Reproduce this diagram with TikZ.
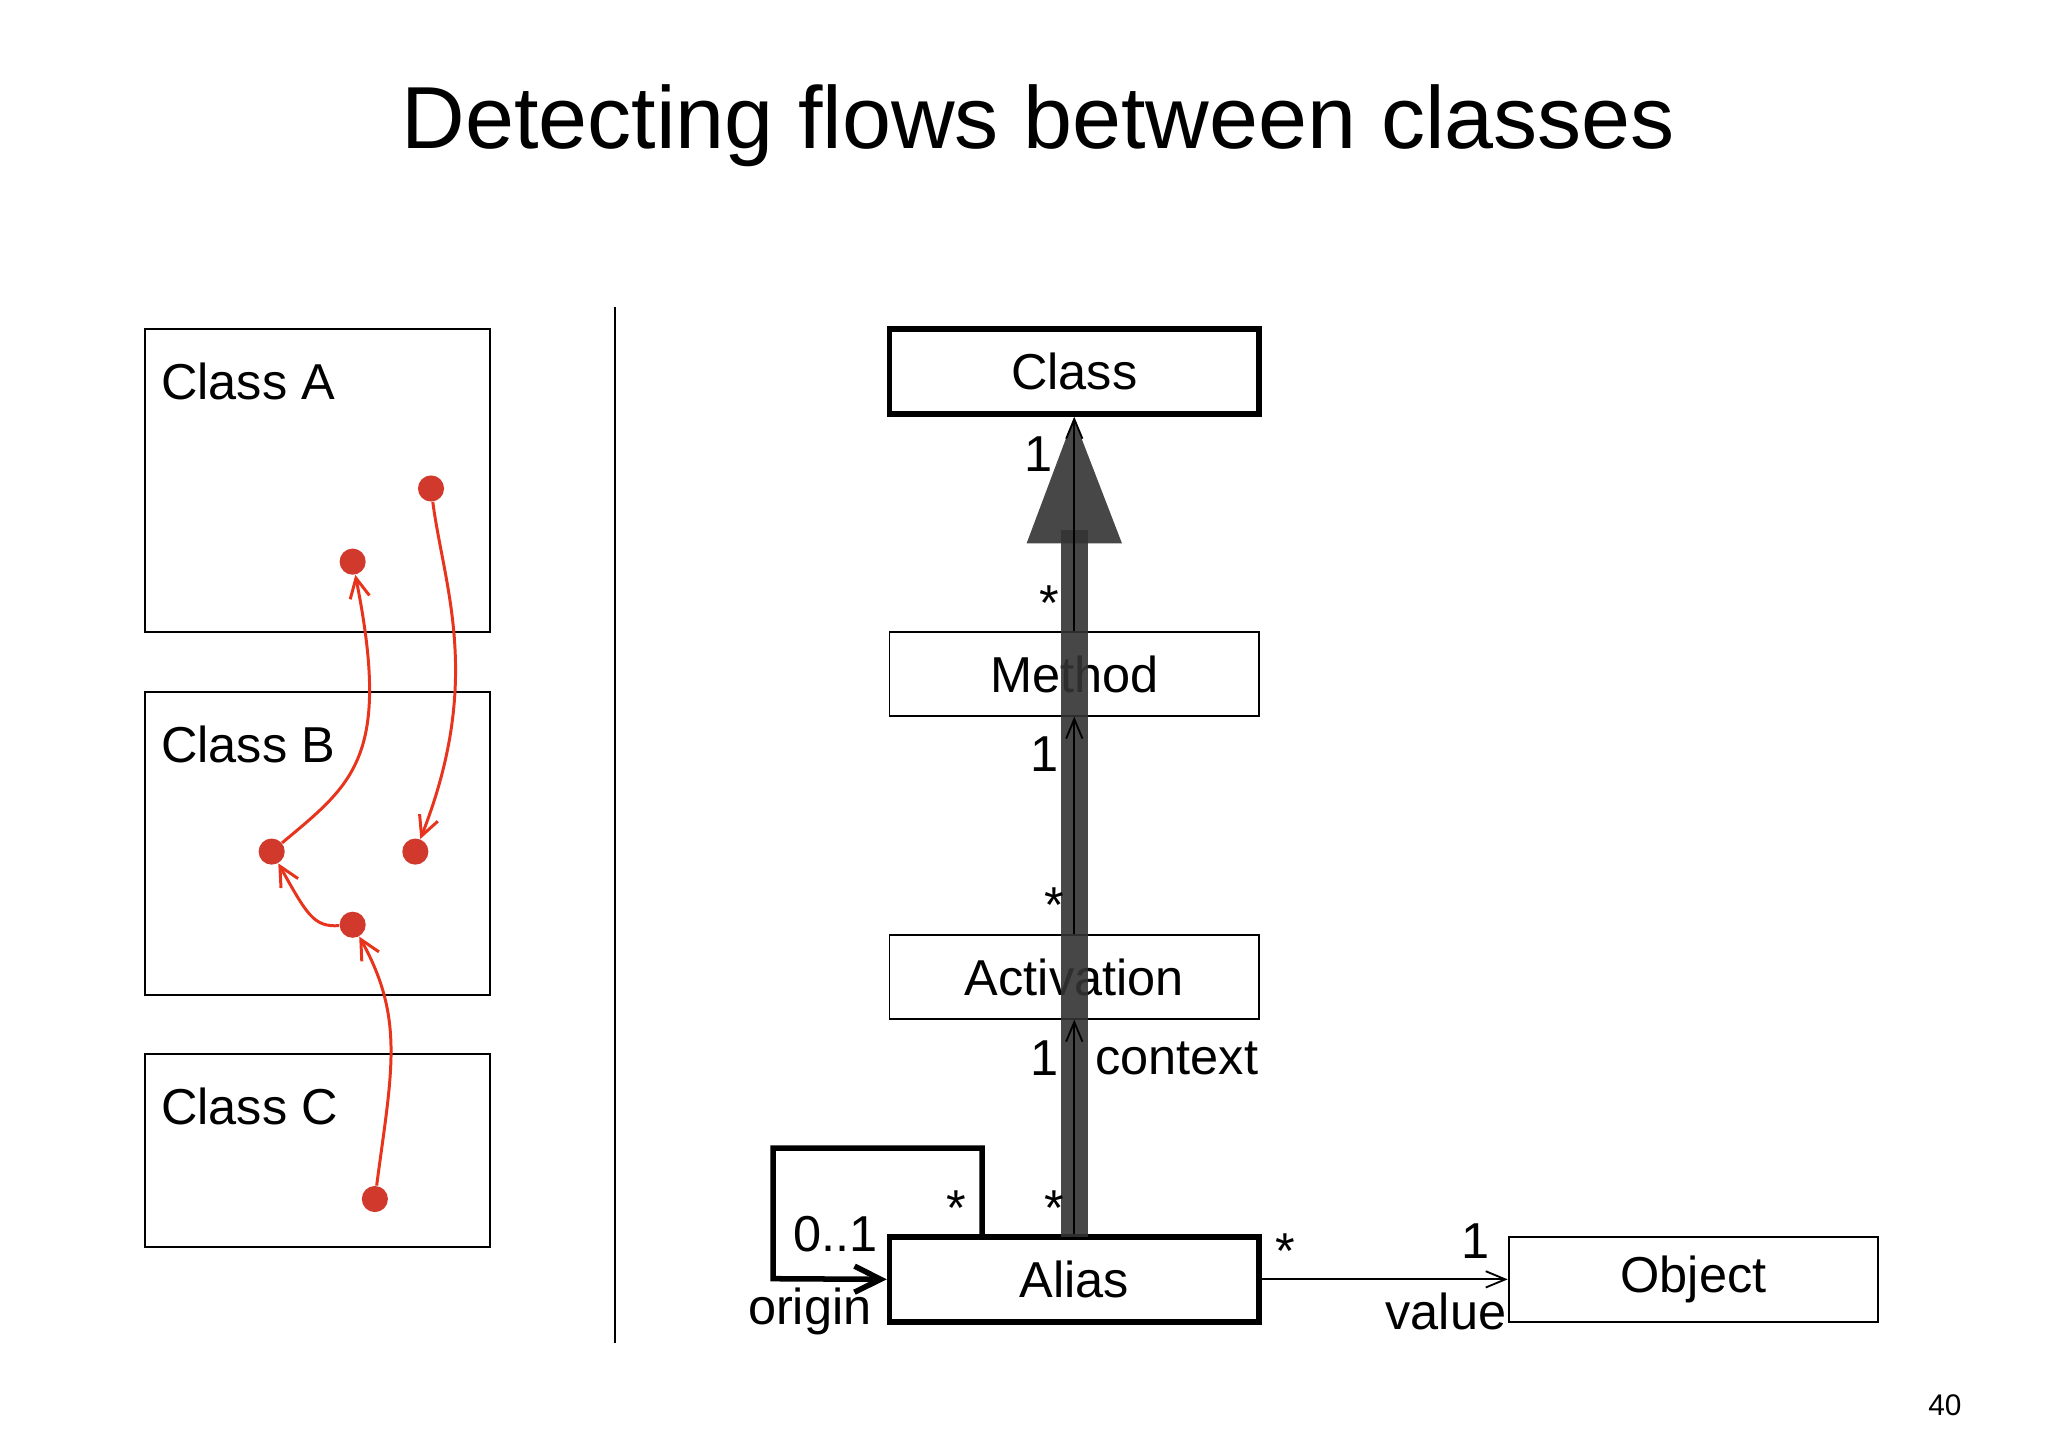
\documentclass[tikz,border=0pt]{standalone}
\usepackage{fontspec}
\setmainfont{Liberation Sans}
\usetikzlibrary{arrows.meta}
\definecolor{rd}{HTML}{D0392B}
\definecolor{rl}{HTML}{E8341C}
\begin{document}
\begin{tikzpicture}[x=0.02cm,y=-0.02cm,
  box/.style={draw,line width=0.8pt},
  lbl/.style={font=\fontsize{22}{26}\selectfont,anchor=west,inner sep=0},
  txt/.style={font=\fontsize{22}{26}\selectfont,inner sep=0},
  dot/.style={circle,fill=rd,inner sep=0,minimum size=0.4cm},
  flow/.style={rl,line width=1.3pt,-{Straight Barb[length=3mm,width=3mm]}},
  assoc/.style={line width=0.8pt,-{Straight Barb[length=3mm,width=2.5mm]}}]
\useasboundingbox (0,0) rectangle (1568,1108.6);
\node[font=\fontsize{38.4}{42}\selectfont] (title) at (795,96) {Detecting flows between classes};
% left boxes
\draw[box] (111,252) rectangle (375,484);
\draw[box] (111,530) rectangle (375,762);
\draw[box] (111,807) rectangle (375,955);
\node[lbl] (la) at (123,292) {Class A};
\node[lbl] (lb) at (123,570) {Class B};
\node[lbl] (lc) at (123,847) {Class C};
\node[dot] (a1) at (330,374) {};
\node[dot] (a2) at (270,430) {};
\node[dot] (b1) at (208,652) {};
\node[dot] (b2) at (318,652) {};
\node[dot] (b3) at (270,708) {};
\node[dot] (c1) at (287,918) {};
\draw[flow] (a1) .. controls (340,450) and (370,520) .. (b2);
\draw[flow] (b1) .. controls (270,600) and (300,580) .. (a2);
\draw[flow] (b3) .. controls (240,710) and (235,700) .. (b1);
\draw[flow] (c1) .. controls (300,820) and (310,780) .. (b3);
\draw[line width=1pt] (471,235) -- (471,1028);
% right
\node[box,line width=2.4pt,minimum width=5.66cm,minimum height=1.3cm,txt] (cls) at (822.5,284.5) {Class};
\node[box,minimum width=5.66cm,minimum height=1.28cm,txt] (met) at (822.5,516) {Method};
\node[box,minimum width=5.66cm,minimum height=1.28cm,txt] (act) at (822.5,748) {Activation};
\node[box,line width=2.4pt,minimum width=5.66cm,minimum height=1.3cm,txt] (ali) at (822.5,979.5) {Alias};
\node[box,minimum width=5.66cm,minimum height=1.3cm,txt] (obj) at (1296.5,979.5) {Object};
\fill[black!80,opacity=0.9] (812,406) rectangle (833,947);
\fill[black!80,opacity=0.9] (822,320) -- (859,416) -- (786,416) -- cycle;
\draw[assoc] (met.north) -- (cls.south);
\draw[assoc] (act.north) -- (met.south);
\draw[assoc] (ali.north) -- (act.south);
\draw[assoc] (ali.east) -- (obj.west);
\coordinate (l1) at (752,947);
\draw[line width=2.4pt,-{Straight Barb[length=4mm,width=4mm]}] (l1) -- (752,879) -- (592,879) -- (592,979) -- (ali.west);
\node[txt] at (795,348) {1};
\node[txt] at (803,462) {*};
\node[txt] at (800,577) {1};
\node[txt] at (807,693) {*};
\node[txt] at (800,810) {1};
\node[txt] at (901,810) {context};
\node[txt] at (807,925) {*};
\node[txt] at (732,925) {*};
\node[txt] at (640,945) {0..1};
\node[txt] at (620,1004) {origin};
\node[txt] at (984,958) {*};
\node[txt] at (1130,950) {1};
\node[txt] at (1107,1004) {value};
\node[font=\fontsize{13}{15}\selectfont] (pg) at (1489,1076) {40};
\end{tikzpicture}
\end{document}
